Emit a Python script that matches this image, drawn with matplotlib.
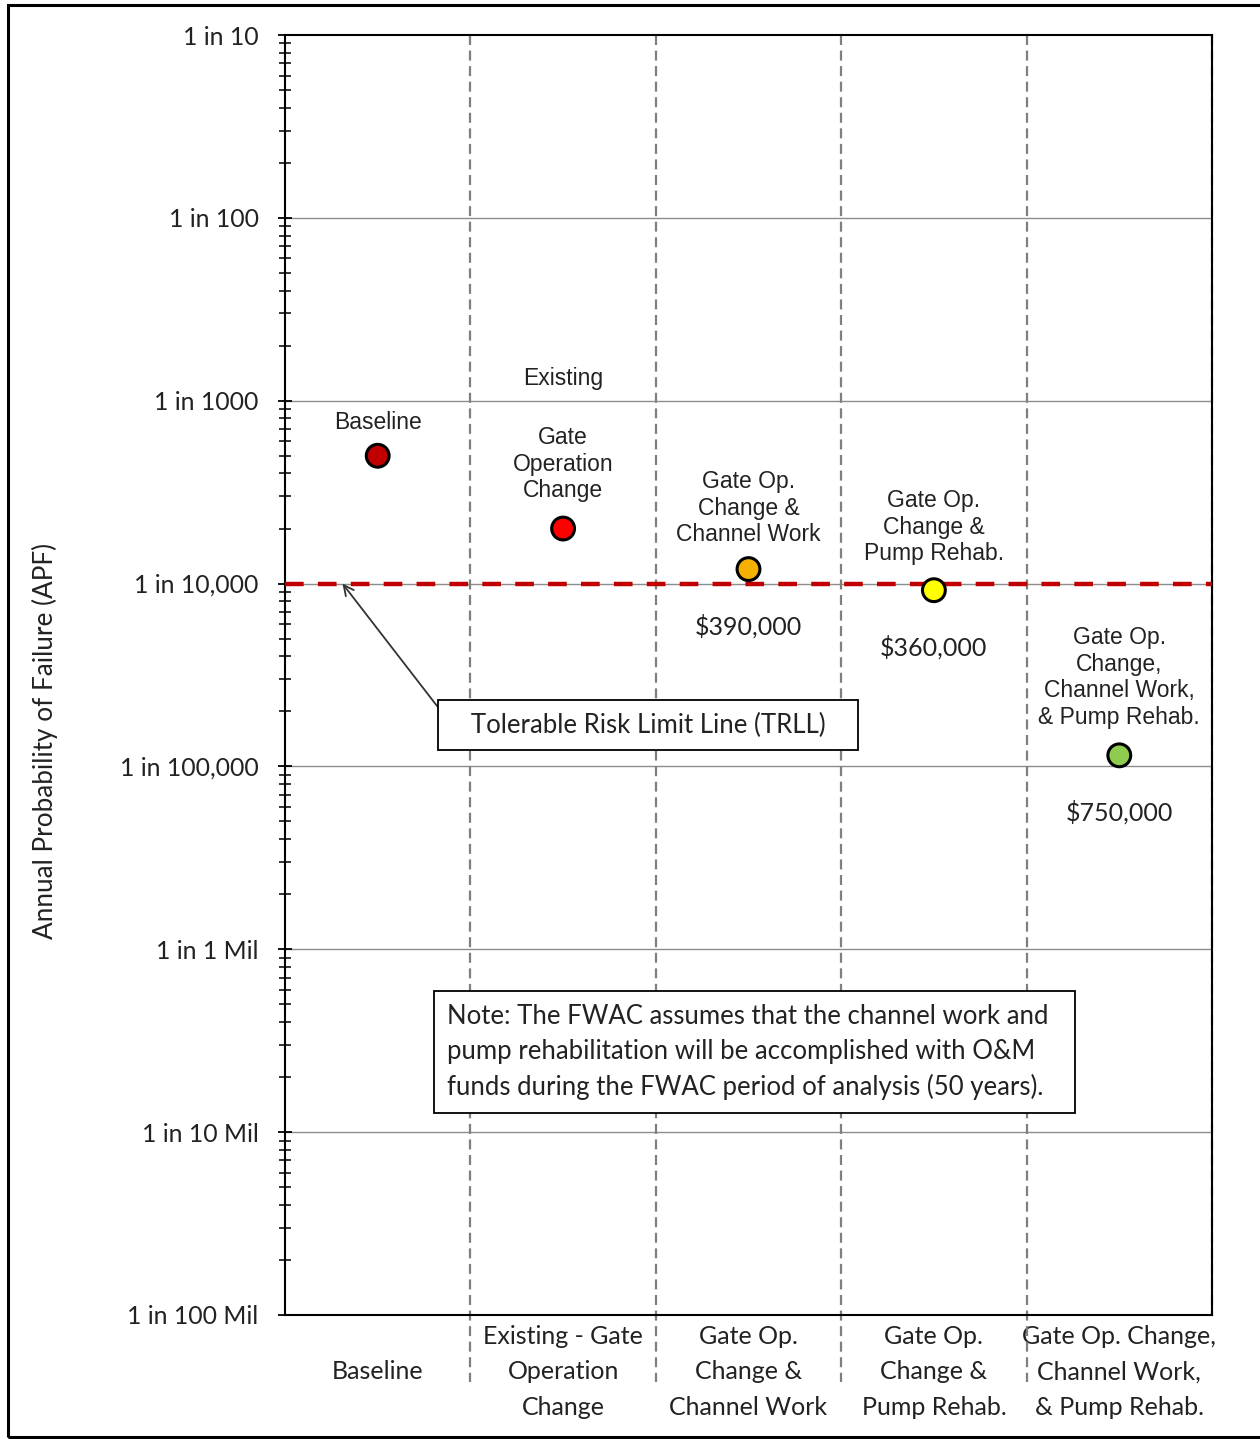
import numpy as np
import matplotlib
matplotlib.use("Agg")
import matplotlib.pyplot as plt
from matplotlib.ticker import FixedLocator, LogLocator, NullFormatter
from matplotlib.transforms import blended_transform_factory
from matplotlib.patches import Rectangle

# data
categories = [
    "Baseline",
    "Existing - Gate\nOperation\nChange",
    "Gate Op.\nChange &\nChannel Work",
    "Gate Op.\nChange &\nPump Rehab.",
    "Gate Op. Change,\nChannel Work,\n& Pump Rehab.",
]
apf = [5.0e-4, 2.0e-4, 1.2e-4, 9.2e-5, 1.15e-5]
point_colors = ["#C00000", "#FF0000", "#F5B000", "#FFFF00", "#8FCB4F"]
point_labels = [
    "Baseline",
    "Gate\nOperation\nChange",
    "Gate Op.\nChange &\nChannel Work",
    "Gate Op.\nChange &\nPump Rehab.",
    "Gate Op.\nChange,\nChannel Work,\n& Pump Rehab.",
]
costs = ["", "", "$390,000", "$360,000", "$750,000"]
trll = 1e-4
y_ticks = [1e-1, 1e-2, 1e-3, 1e-4, 1e-5, 1e-6, 1e-7, 1e-8]
y_tick_labels = ["1 in 10", "1 in 100", "1 in 1000", "1 in 10,000",
                 "1 in 100,000", "1 in 1 Mil", "1 in 10 Mil", "1 in 100 Mil"]

calib = ["Lato", "DejaVu Sans"]
arial = ["Liberation Sans", "DejaVu Sans"]
txt = "#222222"

W, H = 1260, 1439
fig = plt.figure(figsize=(W / 100, H / 100), dpi=100)
ax = fig.add_axes([285 / W, 1 - 1315 / H, (1212 - 285) / W, (1315 - 35) / H])

n = len(categories)
xc = np.arange(n) + 0.5

ax.set_yscale("log")
ax.set_ylim(1e-8, 1e-1)
ax.set_xlim(0, n)

# horizontal decade grid
for yt in y_ticks[1:-1]:
    ax.axhline(yt, color="#8c8c8c", lw=1.0, zorder=1)

# vertical dashed dividers, running down into the label area
trans = blended_transform_factory(ax.transData, ax.transAxes)
for i in range(1, n + 1):
    ax.plot([i, i], [1, -0.052 if i < n else 0], transform=trans, clip_on=False,
            color="#7f7f7f", lw=1.6, dashes=(4.5, 2.5), zorder=2)

# tolerable risk limit line
ax.axhline(trll, color="#C00000", lw=3.2, dashes=(4.2, 3.2), zorder=3)

ax.scatter(xc, apf, s=270, c=point_colors, edgecolors="black", linewidths=2.2, zorder=5)

# point labels (pixel row of the first text line in the figure)
fig_y = blended_transform_factory(ax.transData, fig.transFigure)
ax.text(xc[1], 1 - 378 / H, "Existing", transform=fig_y, ha="center", va="center",
        fontsize=16.5, family=arial, color=txt)
label_rows = [423, 438, 482, 501, 638]
for i in range(n):
    ax.text(xc[i], 1 - (label_rows[i] - 12) / H, point_labels[i], transform=fig_y,
            ha="center", va="top", fontsize=16.5, family=arial, color=txt,
            linespacing=1.2)
    if costs[i]:
        ax.annotate(costs[i], xy=(xc[i], apf[i]), xytext=(0, -41), textcoords="offset points",
                    ha="center", va="center", fontsize=18, family=calib, color=txt)

# TRLL callout
ax.annotate("   Tolerable Risk Limit Line (TRLL)   ", xy=(0.31, trll), xycoords="data",
            xytext=(648 / W, 1 - 725 / H), textcoords="figure fraction",
            ha="center", va="center", fontsize=18.5, family=calib, color=txt,
            bbox=dict(boxstyle="square,pad=0.5", fc="white", ec="black", lw=1.3),
            arrowprops=dict(arrowstyle="->", color="#333333", lw=1.3,
                            mutation_scale=18, shrinkA=0, shrinkB=0,
                            relpos=(0, 0.55)),
            zorder=6)

# note box
fig.text(447 / W, 1 - 1052 / H,
         "Note: The FWAC assumes that the channel work and  \n"
         "pump rehabilitation will be accomplished with O&M\n"
         "funds during the FWAC period of analysis (50 years).  ",
         ha="left", va="center", fontsize=18.5, family=calib, color=txt,
         linespacing=1.5,
         bbox=dict(boxstyle="square,pad=0.5", fc="white", ec="black", lw=1.3),
         zorder=6)

# axes styling
for s in ax.spines.values():
    s.set_color("black")
    s.set_linewidth(1.5)
ax.yaxis.set_major_locator(FixedLocator(y_ticks))
ax.set_yticklabels(y_tick_labels, fontsize=17.8, family=calib, color=txt)
ax.yaxis.set_minor_locator(LogLocator(base=10, subs=np.arange(2, 10), numticks=20))
ax.yaxis.set_minor_formatter(NullFormatter())
ax.tick_params(axis="y", which="major", direction="inout", length=10, width=1.3, pad=14)
ax.tick_params(axis="y", which="minor", direction="inout", length=8, width=1.1)
ax.set_xticks(xc)
ax.set_xticklabels(categories, fontsize=18, family=calib, color=txt, linespacing=1.65)
ax.tick_params(axis="x", length=0, pad=41)
for lbl in ax.get_xticklabels():
    lbl.set_va("center")

fig.text(45 / W, 1 - 741 / H, "Annual Probability of Failure (APF)", rotation=90,
         ha="center", va="center", fontsize=18.8, family=calib, color=txt)

# outer frame of the figure
fig.patches.append(Rectangle((8 / W, 1 - 1437 / H), 1.2, (1437 - 5) / H,
                             transform=fig.transFigure, fill=False, ec="black", lw=2.2))

fig.savefig("out.png", dpi=100)
